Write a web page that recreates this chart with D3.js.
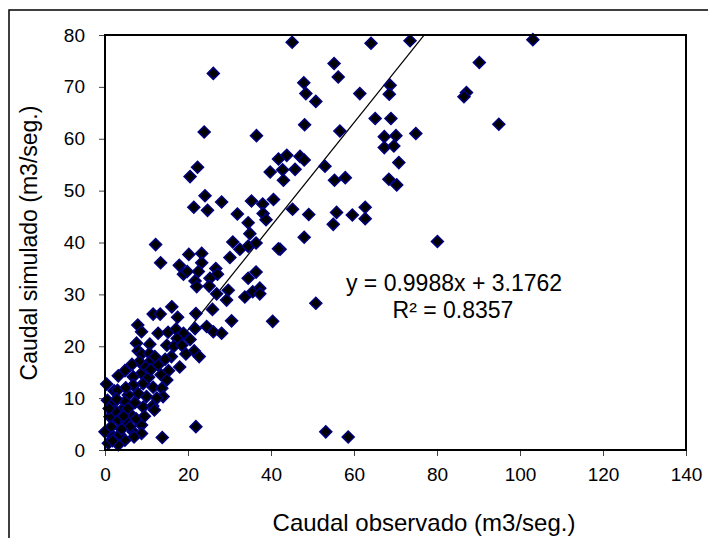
<!DOCTYPE html>
<html><head><meta charset="utf-8">
<script src="https://cdn.jsdelivr.net/npm/d3@7"></script>
<style>body{margin:0;background:#fff}svg{display:block}text{font-family:"Liberation Sans",Arial,sans-serif;fill:#000}</style>
</head><body><svg id="c" width="708" height="538"></svg>
<script>
const obsX = [45.1,26.1,55.2,56.2,47.9,48.4,50.8,61.4,23.9,36.5,48.1,56.6,41.8,43.8,47.0,48.0,39.8,42.8,45.8,43.0,53.0,55.3,57.9,22.3,20.5,24.1,21.4,24.7,28.1,35.3,38.0,40.6,31.9,34.5,38.1,38.8,45.2,49.1,55.8,59.6,55.0,62.7,62.7,64.1,73.5,103.1,90.2,68.7,68.5,87.1,86.5,65.1,68.9,94.9,67.3,70.1,74.9,67.3,69.6,70.8,68.4,70.3,48.0,80.1,42.2,50.8,53.2,58.6,34.9,30.8,32.5,34.5,36.4,41.8,30.1,12.2,13.4,20.2,23.3,23.3,17.9,18.9,19.8,22.5,26.7,27.1,21.7,22.1,25.3,25.1,26.9,29.7,29.3,33.7,34.5,36.4,35.6,37.3,37.3,16.1,11.6,13.3,21.9,25.9,17.5,30.5,40.4,7.9,8.8,12.8,15.2,17.1,18.9,21.7,24.5,26.1,28.1,17.4,20.5,7.6,10.8,14.9,16.6,18.5,21.5,22.7,8.0,8.8,10.7,8.3,10.8,12.8,15.3,13.5,8.8,6.8,4.8,3.2,0.4,2.2,6.8,9.2,11.6,13.7,14.9,14.0,10.0,8.0,5.6,0.6,2.0,4.8,7.2,9.2,11.5,11.9,4.0,6.4,1.2,3.2,5.2,8.8,6.8,0.0,2.0,4.8,0.8,3.2,21.9,13.8,8.8,1.5,2.5,3.5,4.5,5.5,6.0,7.5,3.0,9.5,10.5,12.0,6.5,2.8,1.0,5.0,7.0,4.0,1.8,9.8,11.0,12.5,16.0,19.5,14.5,18.0];
const simY = [78.6,72.6,74.5,71.9,70.8,68.7,67.2,68.7,61.3,60.6,62.7,61.5,56.1,56.8,56.6,55.9,53.6,54.0,54.1,52.0,54.7,52.0,52.5,54.5,52.7,49.0,46.8,46.2,47.8,48.0,47.4,48.3,45.5,43.8,45.6,44.4,46.4,45.4,45.8,45.3,43.5,46.8,44.6,78.4,78.9,79.1,74.7,70.3,68.6,68.9,68.1,63.9,63.9,62.8,60.4,60.6,61.0,58.3,58.6,55.4,52.2,51.1,41.0,40.2,38.7,28.3,3.5,2.5,41.7,40.1,38.7,39.3,39.9,38.8,37.1,39.6,36.1,37.7,37.9,36.1,35.6,33.9,34.4,34.4,35.0,33.9,32.6,31.5,33.1,31.6,30.1,30.8,28.9,29.5,33.1,34.3,30.5,31.2,30.1,27.6,26.2,26.2,26.3,27.1,25.6,24.9,24.8,24.1,22.8,22.5,22.7,23.3,22.5,23.4,23.8,22.8,22.5,21.5,21.3,20.6,20.4,20.2,20.0,20.2,19.1,18.0,19.1,18.5,18.6,17.0,17.0,16.4,15.3,14.5,14.8,14.1,15.3,14.3,12.7,11.4,12.5,12.8,12.1,11.9,13.5,10.3,10.3,10.9,10.6,9.6,9.0,9.3,9.1,8.3,8.5,7.7,7.7,6.7,6.4,5.8,5.5,4.8,3.5,3.5,2.6,1.9,1.3,1.0,4.5,2.4,3.2,4.5,7.5,3.0,6.5,8.0,4.5,6.0,11.5,6.5,14.0,18.0,16.5,9.8,8.0,12.0,2.5,4.0,1.8,16.0,15.5,10.0,18.0,18.5,17.5,16.0];
const xTicks = [0,20,40,60,80,100,120,140];
const yTicks = [0,10,20,30,40,50,60,70,80];
const slope = 0.9988, intercept = 3.1762;
const eqLabel = "y = 0.9988x + 3.1762";
const r2Label = "R² = 0.8357";
const xTitle = "Caudal observado (m3/seg.)";
const yTitle = "Caudal simulado (m3/seg.)";

const svg = d3.select("#c");
const L = 105, T = 35, R = 686, B = 450;
const x = d3.scaleLinear().domain([0,140]).range([L,R]);
const y = d3.scaleLinear().domain([0,80]).range([B,T]);

// outer chart border
svg.append("rect").attr("x",9).attr("y",10).attr("width",720).attr("height",560)
  .attr("fill","#fff").attr("stroke","#000").attr("stroke-width",1.5);

svg.append("defs").append("clipPath").attr("id","clip").append("rect")
  .attr("x",L).attr("y",T).attr("width",R-L).attr("height",B-T);

// axes
const xAx = svg.append("g").attr("transform",`translate(0,${B})`)
  .call(d3.axisBottom(x).tickValues(xTicks).tickSize(6).tickPadding(12).tickFormat(d3.format("d")));
const yAx = svg.append("g").attr("transform",`translate(${L},0)`)
  .call(d3.axisLeft(y).tickValues(yTicks).tickSize(6).tickPadding(14).tickFormat(d3.format("d")));
[xAx,yAx].forEach(g=>{
  g.select(".domain").remove();
  g.selectAll("line").attr("stroke","#444").attr("stroke-width",1);
  g.selectAll("text").style("font-size","19px").style("font-family",'"Liberation Sans",Arial,sans-serif');
});

// trend line
const x0 = d3.min(obsX), x1 = d3.max(obsX);
svg.append("line").attr("clip-path","url(#clip)")
  .attr("x1",x(x0)).attr("y1",y(slope*x0+intercept))
  .attr("x2",x(x1)).attr("y2",y(slope*x1+intercept))
  .attr("stroke","#000").attr("stroke-width",1.2);

// points
const pts = obsX.map((v,i)=>[v,simY[i]]);
svg.append("g").selectAll("path").data(pts).enter().append("path")
  .attr("d",d3.symbol(d3.symbolSquare,72)())
  .attr("transform",d=>`translate(${x(d[0])},${y(d[1])}) rotate(45)`)
  .attr("fill","#000").attr("stroke","#000080").attr("stroke-width",1.5);

// plot frame
svg.append("rect").attr("x",L).attr("y",T).attr("width",R-L).attr("height",B-T)
  .attr("fill","none").attr("stroke","#000").attr("stroke-width",2);

// equation
svg.append("text").attr("x",454).attr("y",291).attr("text-anchor","middle")
  .style("font-size","23px").text(eqLabel);
svg.append("text").attr("x",453).attr("y",318).attr("text-anchor","middle")
  .style("font-size","23px").text(r2Label);

// titles
svg.append("text").attr("x",424).attr("y",531).attr("text-anchor","middle")
  .style("font-size","24px").text(xTitle);
svg.append("text").attr("transform","translate(37,243) rotate(-90)").attr("text-anchor","middle")
  .style("font-size","23px").text(yTitle);
</script></body></html>
